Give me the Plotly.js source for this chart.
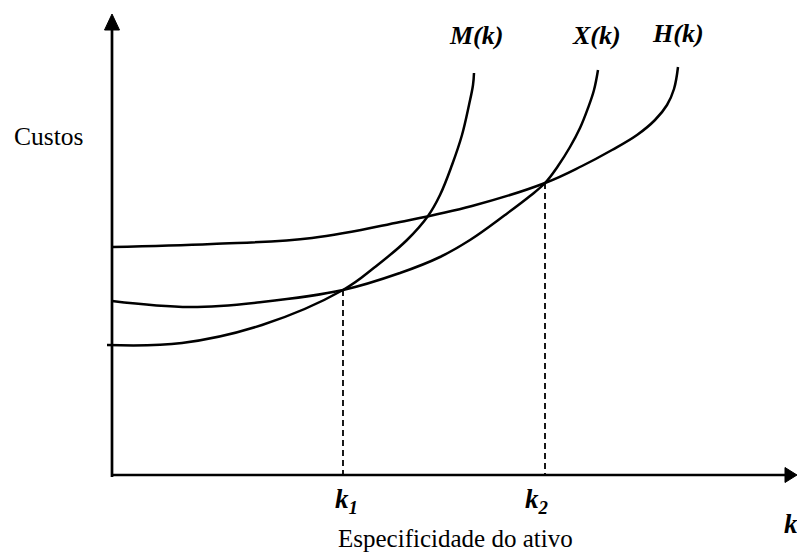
<!DOCTYPE html>
<html>
<head>
<meta charset="utf-8">
<script src="https://cdn.plot.ly/plotly-3.0.1.min.js"></script>
<style>html,body{margin:0;padding:0;background:#fff;}#chart{width:797px;height:553px;}</style>
</head>
<body>
<div id="chart"></div>
<script>
// Data (k = asset specificity, cost in arbitrary units)
const mK    = [-0.5, 7.0, 15.0, 23.1, 26.3, 29.5, 31.6, 32.8, 34.0, 35.0, 35.7, 36.1, 36.2];
const mCost = [13.0, 13.2, 15.0, 18.5, 20.8, 23.5, 25.9, 28.0, 31.0, 34.0, 37.0, 39.0, 40.2];

const xK    = [0, 7.8, 15.0, 23.1, 28.8, 32.8, 35.8, 39.3, 41.8, 43.3, 44.6, 45.8, 46.8, 47.6, 48.2, 48.6];
const xCost = [17.4, 16.8, 17.3, 18.5, 20.2, 21.8, 23.5, 26.0, 27.9, 29.2, 30.9, 32.8, 34.7, 36.7, 38.5, 40.5];

const hK    = [0, 10.0, 20.0, 28.8, 36.0, 43.3, 47.0, 50.0, 52.5, 54.3, 55.5, 56.2, 56.6];
const hCost = [22.8, 23.1, 23.7, 25.3, 26.9, 29.2, 30.9, 32.5, 34.0, 35.5, 37.0, 38.6, 40.8];

const markK    = [23.1, 43.3];
const markCost = [18.5, 29.2];
const markLabels = ['<b><i>k<sub>1</sub></i></b>', '<b><i>k<sub>2</sub></i></b>'];

const curveLabels = ['<b><i>M(k)</i></b>', '<b><i>X(k)</i></b>', '<b><i>H(k)</i></b>'];

const FONT = 'Liberation Serif';
const lineStyle = {color: '#000', width: 2.5, shape: 'spline', smoothing: 1.1};

const traces = [
  {x: mK, y: mCost, mode: 'lines', line: lineStyle, hoverinfo: 'skip'},
  {x: xK, y: xCost, mode: 'lines', line: lineStyle, hoverinfo: 'skip'},
  {x: hK, y: hCost, mode: 'lines', line: lineStyle, hoverinfo: 'skip'}
];
markK.forEach((k, i) => {
  traces.push({x: [k, k], y: [markCost[i], 0], mode: 'lines',
    line: {color: '#000', width: 1.8, dash: '6px,4px'}, hoverinfo: 'skip'});
});

const yTop = 44.5, yTip = 46.1, xEnd = 67.3, xTip = 68.5;
const shapes = [
  {type: 'line', xref: 'x', yref: 'y', x0: 0, y0: -0.2, x1: 0, y1: yTop, line: {color: '#000', width: 2.7}},
  {type: 'line', xref: 'x', yref: 'y', x0: 0, y0: 0, x1: xEnd, y1: 0, line: {color: '#000', width: 2.7}},
  {type: 'path', xref: 'x', yref: 'y', path: `M -0.75,${yTop} L 0,${yTip} L 0.75,${yTop} Z`, fillcolor: '#000', line: {color: '#000', width: 1}},
  {type: 'path', xref: 'x', yref: 'y', path: `M ${xEnd},0.75 L ${xTip},0 L ${xEnd},-0.75 Z`, fillcolor: '#000', line: {color: '#000', width: 1}}
];

const ann = (text, x, y, size, extra) => Object.assign({
  text: text, x: x, y: y, xref: 'x', yref: 'y', showarrow: false,
  xanchor: 'center', yanchor: 'middle', font: {family: FONT, size: size, color: '#000'}
}, extra || {});

const annotations = [
  ann(curveLabels[0], 36.4, 44.0, 26),
  ann(curveLabels[1], 48.4, 44.0, 26),
  ann(curveLabels[2], 56.6, 44.15, 26),
  ann(markLabels[0], 23.4, -2.6, 27),
  ann(markLabels[1], 42.5, -2.6, 27),
  ann('Especificidade do ativo', 34.3, -6.3, 25),
  ann('<b><i>k</i></b>', 67.9, -4.9, 27),
  ann('Custos', -6.4, 33.9, 25.5)
];

const layout = {
  width: 797, height: 553,
  margin: {l: 0, r: 0, t: 0, b: 0},
  paper_bgcolor: '#fff', plot_bgcolor: '#fff',
  showlegend: false,
  font: {family: FONT},
  xaxis: {range: [-11.2, 68.5], visible: false, fixedrange: true},
  yaxis: {range: [-7.8, 47.5], visible: false, fixedrange: true},
  shapes: shapes,
  annotations: annotations
};

Plotly.newPlot('chart', traces, layout, {displayModeBar: false, staticPlot: true});
</script>
</body>
</html>
